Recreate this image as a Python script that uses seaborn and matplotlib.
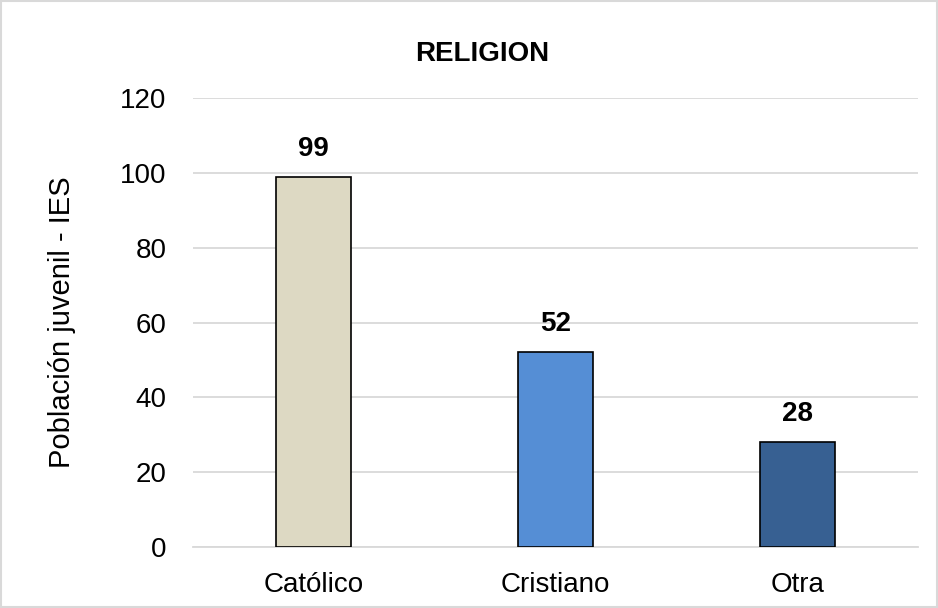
import matplotlib
matplotlib.use("Agg")
import matplotlib.pyplot as plt
import seaborn as sns
import pandas as pd

categories = ["Católico", "Cristiano", "Otra"]
values = [99, 52, 28]
colors = ["#DDD9C3", "#558ED5", "#376092"]
yticks = [0, 20, 40, 60, 80, 100, 120]

sns.set_style("white")
plt.rcParams["font.family"] = ["Liberation Sans", "DejaVu Sans"]
plt.rcParams["text.color"] = "black"

df = pd.DataFrame({"cat": categories, "val": values})

fig = plt.figure(figsize=(9.38, 6.08), dpi=100)
ax = fig.add_axes([0.2058, 0.1003, 0.7729, 0.7385])
sns.barplot(data=df, x="cat", y="val", hue="cat", palette=colors, legend=False,
            width=0.31, edgecolor="black", linewidth=1.2, saturation=1, ax=ax, zorder=3)

ax.set_xlim(-0.5, 2.5)
ax.set_ylim(0, 120)
ax.set_yticks(yticks)
ax.yaxis.grid(True, color="#D9D9D9", linewidth=1.3, zorder=0)
ax.set_axisbelow(True)
for s in ["top", "right", "left"]:
    ax.spines[s].set_visible(False)
ax.spines["bottom"].set_color("#D9D9D9")
ax.spines["bottom"].set_linewidth(1.3)
ax.tick_params(axis="y", length=0, labelsize=20, colors="black", pad=19)
ax.tick_params(axis="x", length=0, labelsize=20, colors="black", pad=18)
ax.set_xlabel("")
ax.set_ylabel("Población juvenil - IES", fontsize=21, color="black")
ax.yaxis.set_label_coords(-0.161, 0.5)

for i, v in enumerate(values):
    ax.text(i, v + 4.0, str(v), ha="center", va="bottom", fontsize=20, fontweight="bold", color="black")

fig.text(0.5 + 0.014, 1 - 54 / 608, "RELIGION", ha="center", va="center", fontsize=20,
         fontweight="bold", color="black")

border = plt.Rectangle((0.001, 0.001), 0.998, 0.998, transform=fig.transFigure,
                       fill=False, edgecolor="#D9D9D9", linewidth=1.5)
fig.patches.append(border)

fig.savefig("out.png", dpi=100)
